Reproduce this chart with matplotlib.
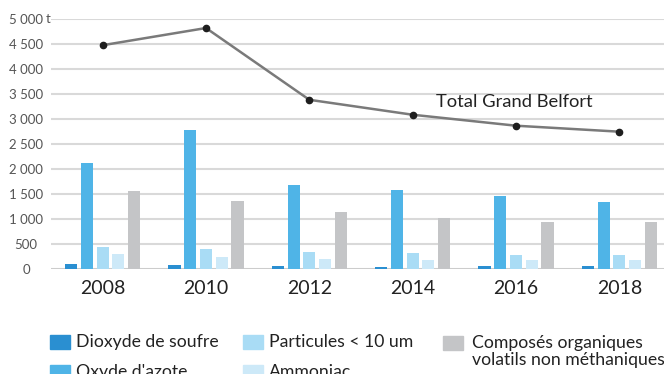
import matplotlib
matplotlib.use("Agg")
import matplotlib.pyplot as plt
from matplotlib.patches import Rectangle
import numpy as np

plt.rcParams['font.family'] = ['Lato', 'DejaVu Sans']

years = ['2008', '2010', '2012', '2014', '2016', '2018']
total = [4480, 4825, 3385, 3085, 2865, 2745]

series = ['Dioxyde de soufre', "Oxyde d'azote", 'Particules < 10 um',
          'Ammoniac', 'Composés organiques\nvolatils non méthaniques']
so2 = [95, 75, 60, 40, 45, 50]
nox = [2110, 2785, 1675, 1575, 1455, 1330]
pm10 = [425, 390, 330, 305, 275, 270]
nh3 = [290, 230, 190, 170, 170, 170]
cov = [1555, 1355, 1135, 1005, 940, 935]
colors = ['#2a8fd1', '#4fb4e7', '#a9dcf5', '#cde9f8', '#c4c5c7']

yticks = [0, 500, 1000, 1500, 2000, 2500, 3000, 3500, 4000, 4500, 5000]
ytick_labels = ['0', '500', '1 000', '1 500', '2 000', '2 500', '3 000',
                '3 500', '4 000', '4 500', '5 000']

W, H = 664, 374
fig = plt.figure(figsize=(W / 100, H / 100), dpi=100)
ax = fig.add_axes([51 / W, (H - 268.5) / H, 620 / W, 249.2 / H])

x = np.arange(len(years))
step = 0.152
width = 0.118
for i, vals in enumerate([so2, nox, pm10, nh3, cov]):
    ax.bar(x + (i - 2) * step, vals, width, color=colors[i], zorder=3)

ax.plot(x, total, color='#7a7a7a', lw=1.8, zorder=4)
ax.plot(x, total, 'o', color='#1e1e1e', ms=4.5, zorder=5)
ax.text(3.23, 3340, 'Total Grand Belfort', fontsize=13.2, color='#222222',
        va='center', ha='left', zorder=6)

ax.set_xlim(-0.5, 5.5)
ax.set_ylim(0, 5000)
ax.set_yticks(yticks)
ax.set_yticklabels(ytick_labels)
ax.set_xticks(x)
ax.set_xticklabels(years)
ax.grid(axis='y', color='#d9d9d9', lw=1.5, zorder=0)
ax.axhline(0, color='#c8c8c8', lw=1.8, zorder=2)
for s in ax.spines.values():
    s.set_visible(False)
ax.tick_params(axis='y', length=0, pad=18, labelsize=9.5, labelcolor='#555555')
ax.tick_params(axis='x', length=0, pad=8, labelsize=14, labelcolor='#222222')
plt.setp(ax.get_yticklabels(), ha='center')
fig.text(45.5 / W, (H - 19) / H, 't', fontsize=9.5, color='#555555',
         va='center', ha='left')

# legend drawn by hand, three columns
legend_pos = [(50, 342), (50, 372), (243, 342), (243, 372), (443, 343)]
for (lx, ly), name, c in zip(legend_pos, series, colors):
    fig.patches.append(Rectangle((lx / W, (H - ly - 7) / H), 20 / W, 14 / H,
                                 transform=fig.transFigure, color=c))
    if '\n' in name:
        fig.text((lx + 29) / W, (H - ly - 8.5) / H, name, fontsize=12.7,
                 color='#222222', va='center', ha='left', linespacing=1.15)
    else:
        fig.text((lx + 26) / W, (H - ly) / H, name, fontsize=12.7,
                 color='#222222', va='center', ha='left')

fig.savefig('out.png', dpi=100)
